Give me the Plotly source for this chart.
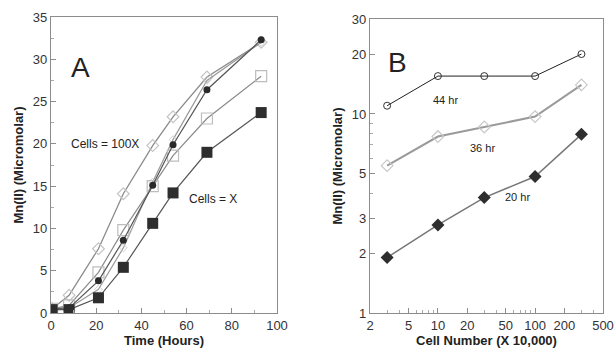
import plotly.graph_objects as go

# Panel A: time course
time_h = [0.5, 8, 21, 32, 45, 54, 69, 93]
cells_x = [0.4, 0.4, 1.8, 5.4, 10.6, 14.2, 19.0, 23.7]
cells_3x = [0.5, 0.6, 2.8, 7.7, 15.5, 20.5, 27.5, 32.0]
cells_10x = [0.5, 0.6, 3.8, 8.6, 15.1, 19.9, 26.4, 32.3]
cells_30x = [0.5, 0.9, 4.8, 9.8, 15.0, 18.6, 23.0, 28.0]
cells_100x = [0.5, 2.1, 7.6, 14.1, 19.8, 23.2, 27.9, 32.0]

# Panel B: dose response
cell_number = [3, 10, 30, 100, 300]
hr44 = [11.0, 15.5, 15.5, 15.5, 20.0]
hr36 = [5.5, 7.7, 8.6, 9.7, 14.0]
hr20 = [1.9, 2.77, 3.8, 4.85, 7.9]

# minor tick positions on the log axes
x2_minor = [3, 4, 6, 7, 8, 9, 30, 40, 60, 70, 80, 90, 300, 400]
y2_minor = [4, 6, 7, 8, 9]

W, H = 615, 353
fig = go.Figure()

# Panel A traces
fig.add_trace(go.Scatter(x=time_h, y=cells_100x, mode="lines+markers",
    line=dict(color="#8a8a8a", width=1.3),
    marker=dict(symbol="diamond-open", size=9, color="#c4c4c4", line=dict(width=1.2)),
    xaxis="x", yaxis="y", showlegend=False))
fig.add_trace(go.Scatter(x=time_h, y=cells_3x, mode="lines+markers",
    line=dict(color="#9a9a9a", width=1.2),
    marker=dict(symbol="diamond-open", size=6, color="#cfcfcf", line=dict(width=1)),
    xaxis="x", yaxis="y", showlegend=False))
fig.add_trace(go.Scatter(x=time_h, y=cells_30x, mode="lines+markers",
    line=dict(color="#8a8a8a", width=1.2),
    marker=dict(symbol="square-open", size=11, color="#bdbdbd", line=dict(width=1.2)),
    xaxis="x", yaxis="y", showlegend=False))
fig.add_trace(go.Scatter(x=time_h, y=cells_10x, mode="lines+markers",
    line=dict(color="#555555", width=1.2),
    marker=dict(symbol="circle", size=7, color="#2a2a2a"),
    xaxis="x", yaxis="y", showlegend=False))
fig.add_trace(go.Scatter(x=time_h, y=cells_x, mode="lines+markers",
    line=dict(color="#555555", width=1.2),
    marker=dict(symbol="square", size=11, color="#2e2e2e"),
    xaxis="x", yaxis="y", showlegend=False))

# Panel B traces
fig.add_trace(go.Scatter(x=cell_number, y=hr44, mode="lines+markers",
    line=dict(color="#222222", width=1),
    marker=dict(symbol="circle-open", size=7, color="#333333", line=dict(width=1)),
    xaxis="x2", yaxis="y2", showlegend=False))
fig.add_trace(go.Scatter(x=cell_number, y=hr36, mode="lines+markers",
    line=dict(color="#9a9a9a", width=2),
    marker=dict(symbol="diamond-open", size=9, color="#c8c8c8", line=dict(width=1.2)),
    xaxis="x2", yaxis="y2", showlegend=False))
fig.add_trace(go.Scatter(x=cell_number, y=hr20, mode="lines+markers",
    line=dict(color="#777777", width=1.5),
    marker=dict(symbol="diamond", size=10, color="#2e2e2e"),
    xaxis="x2", yaxis="y2", showlegend=False))

tick_font = dict(family="Liberation Sans, Arial, sans-serif", size=13, color="#333333")
title_font = dict(family="Liberation Sans, Arial, sans-serif", size=13, color="#222222")
common = dict(showline=True, linecolor="#8c8c8c", linewidth=1.2, mirror=True,
              ticks="inside", ticklen=5, tickcolor="#8c8c8c", showgrid=False,
              zeroline=False, tickfont=tick_font, automargin=False)

fig.update_layout(
    width=W, height=H, margin=dict(l=0, r=0, t=0, b=0),
    paper_bgcolor="white", plot_bgcolor="white",
    xaxis=dict(domain=[51 / W, 277 / W], range=[0, 100], tickvals=[0, 20, 40, 60, 80, 100],
               minor=dict(ticks="inside", ticklen=3, dtick=10, tickcolor="#aaaaaa"),
               title=dict(text="<b>Time (Hours)</b>", font=title_font, standoff=4),
               anchor="y", **common),
    yaxis=dict(domain=[40 / H, 336 / H], range=[0, 35], tickvals=[0, 5, 10, 15, 20, 25, 30, 35],
               minor=dict(ticks="inside", ticklen=3, dtick=2.5, tickcolor="#aaaaaa"),
               title=dict(text="<b>Mn(II) (Micromolar)</b>", font=title_font, standoff=6),
               anchor="x", **common),
    xaxis2=dict(domain=[370 / W, 603 / W], type="log", range=[0.30103, 2.69897],
                tickvals=[2, 5, 10, 20, 50, 100, 200, 500],
                ticktext=["2", "5", "10", "20", "50", "100", "200", "500"],
                minor=dict(ticks="inside", ticklen=3, tickmode="array", tickvals=x2_minor,
                           tickcolor="#aaaaaa"),
                title=dict(text="<b>Cell Number (X 10,000)</b>", font=title_font, standoff=4),
                anchor="y2", **common),
    yaxis2=dict(domain=[40 / H, 334 / H], type="log", range=[0, 1.47712],
                tickvals=[1, 2, 3, 5, 10, 20, 30],
                ticktext=["1", "2", "3", "5", "10", "20", "30"],
                minor=dict(ticks="inside", ticklen=3, tickmode="array", tickvals=y2_minor,
                           tickcolor="#aaaaaa"),
                title=dict(text="<b>Mn(II) (Micromolar)</b>", font=title_font, standoff=6),
                anchor="x2", **common),
)

annotations = [
    dict(x=80, y=68, text="A", size=28),
    dict(x=398, y=63, text="B", size=28),
    dict(x=105, y=144, text="Cells = 100X", size=12),
    dict(x=213, y=199, text="Cells = X", size=12),
    dict(x=445, y=100, text="44 hr", size=11),
    dict(x=482, y=148, text="36 hr", size=11),
    dict(x=517, y=197, text="20 hr", size=11),
]
for a in annotations:
    fig.add_annotation(x=a["x"] / W, y=1 - a["y"] / H, xref="paper", yref="paper",
                       text=a["text"], showarrow=False, xanchor="center", yanchor="middle",
                       font=dict(family="Liberation Sans, Arial, sans-serif", size=a["size"],
                                 color="#222222"))

fig.write_html("out.html")
